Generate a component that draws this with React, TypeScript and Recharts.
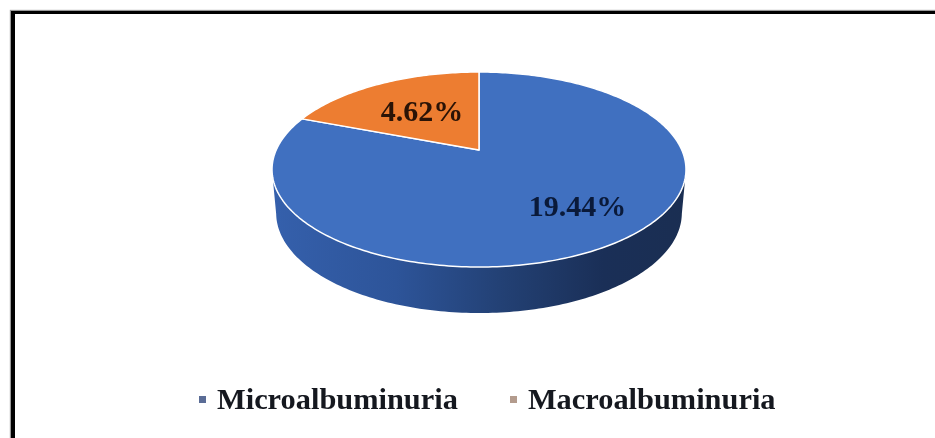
import { Legend, Pie, PieChart } from 'recharts';

const categories = ['Microalbuminuria', 'Macroalbuminuria'];
const values = [19.44, 4.62];
const sliceColors = ['#4070C0', '#ED7D31'];
const legendColors = ['#5A6C96', '#B39B8D'];
const labelColors = ['#0A1A3A', '#2A1306'];

const chartData = categories.map((name, i) => ({ name, value: values[i], fill: sliceColors[i] }));

// fake 3D: the flat circle of the pie is pushed through a perspective, the apex sits above the ellipse centre
const PERSPECTIVE = -0.2;
const HALF_W = 202.8;
const HALF_H = 93.6;
const WIDEST_V = 0.2;
const WIDEST_DY = 19.5;
const BOTTOM_SCALE_X = 0.98;
const BOTTOM_SCALE_Y = 1.026;
const DEPTH = 43.5;
const FONT = '"Liberation Serif", "Times New Roman", serif';

const project = (cx: number, cy: number, deg: number, r = 1) => {
  const rad = (deg * Math.PI) / 180;
  const u = Math.cos(rad) * r;
  const v = -Math.sin(rad) * r;
  const d = 1 + PERSPECTIVE * v;
  return { x: cx + (HALF_W * u) / d, y: cy + (HALF_H * v) / d, v };
};

const lower = (cx: number, cy: number, p: { x: number; y: number }) => {
  const midY = cy + WIDEST_DY;
  return {
    x: cx + (p.x - cx) * BOTTOM_SCALE_X,
    y: midY + (p.y - midY) * BOTTOM_SCALE_Y + DEPTH,
  };
};

const toPath = (pts: { x: number; y: number }[]) =>
  pts.map((p, i) => `${i ? 'L' : 'M'}${p.x.toFixed(2)} ${p.y.toFixed(2)}`).join(' ');

function Slice3D(props: any) {
  const { cx, cy, startAngle, endAngle, fill } = props;
  const steps = Math.max(8, Math.round(Math.abs(endAngle - startAngle)));
  const arc = Array.from({ length: steps + 1 }, (_, i) =>
    project(cx, cy, startAngle + ((endAngle - startAngle) * i) / steps),
  );
  const front = arc.filter((p) => p.v >= WIDEST_V);
  return (
    <g>
      {front.length > 1 && (
        <path
          d={`${toPath(front)} ${toPath(front.map((p) => lower(cx, cy, p)).reverse()).replace('M', 'L')} Z`}
          fill="url(#sideShade)"
        />
      )}
      <path d={`M${cx} ${cy} ${toPath(arc).replace('M', 'L')} Z`} fill={fill} stroke="#FFFFFF" strokeWidth={1.5} strokeLinejoin="round" />
    </g>
  );
}

function SliceLabel(props: any) {
  const { cx, cy, midAngle, index, value } = props;
  const p = project(cx, cy, midAngle, index === 0 ? 0.75 : 0.54);
  return (
    <text
      x={p.x}
      y={p.y + (index === 0 ? -10 : -1)}
      textAnchor="middle"
      dominantBaseline="central"
      fontFamily={FONT}
      fontWeight="bold"
      fontSize={30}
      fill={labelColors[index]}
    >
      {value.toFixed(2)}%
    </text>
  );
}

function LegendRow({ payload }: any) {
  return (
    <div style={{ display: 'flex', alignItems: 'center', fontFamily: FONT, fontWeight: 'bold', fontSize: 30.4, color: '#15181F', lineHeight: '30px' }}>
      {(payload ?? []).map((item: any, i: number) => (
        <span key={item.value} style={{ display: 'flex', alignItems: 'center', marginRight: i === 0 ? 52 : 0 }}>
          <span style={{ width: 7, height: 7, background: legendColors[i], marginRight: 11 }} />
          {item.value}
        </span>
      ))}
    </div>
  );
}

export default function App() {
  return (
    <div
      style={{
        position: 'fixed',
        left: 0,
        top: 0,
        width: 935,
        height: 438,
        background: '#FFFFFF',
        overflow: 'hidden',
        filter: 'blur(0.5px)',
      }}
    >
      <div
        style={{
          position: 'absolute',
          left: 11,
          top: 11,
          width: 940,
          height: 450,
          borderLeft: '4px solid #000',
          borderTop: '3.5px solid #000',
          boxShadow: '-1px -1px 1px #999',
        }}
      />
      <PieChart width={935} height={438} margin={{ top: 0, right: 0, bottom: 0, left: 0 }} style={{ position: 'absolute', left: 0, top: 0 }}>
        <defs>
          <linearGradient id="sideShade" gradientUnits="userSpaceOnUse" x1="272" y1="0" x2="686" y2="0">
            <stop offset="0" stopColor="#3560AC" />
            <stop offset="0.3" stopColor="#2D5499" />
            <stop offset="0.55" stopColor="#234175" />
            <stop offset="0.8" stopColor="#1A2F57" />
            <stop offset="1" stopColor="#1A2E52" />
          </linearGradient>
        </defs>
        <Pie
          data={chartData}
          dataKey="value"
          nameKey="name"
          cx={479}
          cy={150}
          outerRadius={100}
          startAngle={90}
          endAngle={-270}
          shape={Slice3D}
          label={SliceLabel}
          labelLine={false}
          isAnimationActive={false}
        />
        <Legend content={LegendRow} itemSorter={null} wrapperStyle={{ position: 'absolute', left: 199, top: 384, width: 'auto' }} />
      </PieChart>
    </div>
  );
}
